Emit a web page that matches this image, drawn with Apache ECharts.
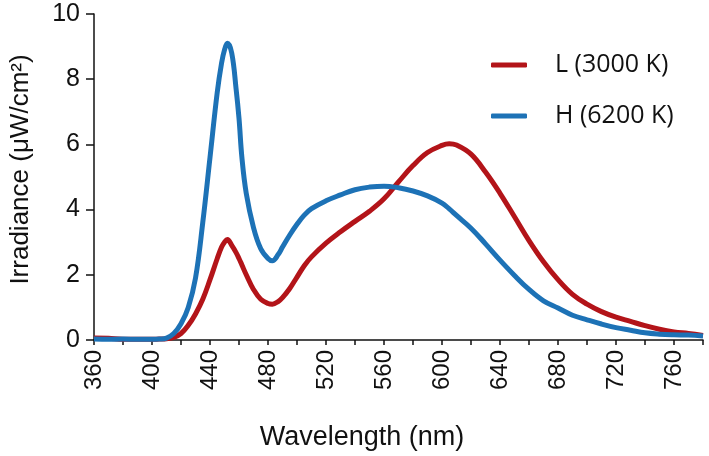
<!DOCTYPE html>
<html>
<head>
<meta charset="utf-8">
<script src="https://cdn.jsdelivr.net/npm/echarts@6/dist/echarts.min.js"></script>
<style>
  html, body { margin: 0; padding: 0; background: #fff; }
  #chart { width: 709px; height: 456px; }
</style>
</head>
<body>
<div id="chart"></div>
<script>
// wavelength (nm)
const wavelength = [360, 370, 380, 390, 400, 405, 410, 415, 420, 425, 430, 435, 440, 445, 448, 450, 452, 455, 458, 460,
  462, 465, 470, 475, 480, 483, 487, 490, 495, 500, 505, 510, 520, 530, 540, 550, 560, 570, 580, 590,
  600, 605, 610, 620, 630, 640, 650, 660, 670, 680, 690, 700, 710, 720, 730, 740, 750, 760, 770, 780];
// irradiance, H (6200 K)
const highK = [0.03, 0.02, 0.03, 0.02, 0.02, 0.03, 0.06, 0.2, 0.5, 1.0, 1.9, 3.6, 5.6, 7.6, 8.5, 8.9, 9.1, 8.8, 7.7, 6.8,
  5.6, 4.5, 3.45, 2.8, 2.5, 2.43, 2.62, 2.85, 3.22, 3.55, 3.83, 4.03, 4.27, 4.45, 4.61, 4.69, 4.72, 4.67, 4.57, 4.42,
  4.2, 4.02, 3.82, 3.43, 2.95, 2.45, 1.98, 1.55, 1.2, 0.98, 0.76, 0.62, 0.49, 0.38, 0.3, 0.22, 0.18, 0.16, 0.15, 0.12];
// irradiance, L (3000 K)
const lowK = [0.06, 0.05, 0.02, 0.02, 0.02, 0.03, 0.04, 0.08, 0.2, 0.45, 0.8, 1.25, 1.85, 2.5, 2.85, 3.0, 3.08, 2.9, 2.68, 2.5,
  2.3, 2.0, 1.55, 1.25, 1.12, 1.1, 1.18, 1.3, 1.58, 1.93, 2.28, 2.55, 2.97, 3.32, 3.64, 3.95, 4.33, 4.85, 5.35, 5.75,
  5.97, 6.02, 5.98, 5.7, 5.15, 4.5, 3.78, 3.05, 2.4, 1.85, 1.4, 1.1, 0.87, 0.7, 0.57, 0.44, 0.33, 0.25, 0.2, 0.14];
const seriesNames = ["L (3000 K)", "H (6200 K)"];

const RED = "#b31419";
const BLUE = "#1d72b6";

let myChart = echarts.init(document.getElementById("chart"));
myChart.setOption({
  animation: false,
  backgroundColor: "#fff",
  grid: { left: 92, right: 6, top: 14, bottom: 115, containLabel: false },
  legend: {
    data: seriesNames,
    orient: "vertical",
    left: 491,
    top: 51,
    padding: 0,
    itemWidth: 36,
    itemHeight: 5,
    icon: "roundRect",
    itemGap: 23,
    textStyle: {
      fontFamily: "Open Sans",
      fontSize: 25,
      color: "#111",
      lineHeight: 28,
      padding: [0, 0, 0, 23],
    },
  },
  xAxis: {
    type: "value",
    min: 360,
    max: 780,
    interval: 20,
    name: "Wavelength (nm)",
    nameLocation: "middle",
    nameGap: 84,
    nameTextStyle: {
      fontFamily: "Liberation Sans",
      fontSize: 27,
      color: "#111",
      padding: [0, 73, 0, 0],
    },
    axisLine: { show: true, lineStyle: { color: "#111", width: 1.5 } },
    axisTick: { show: true, length: 5, lineStyle: { color: "#111", width: 1.5 } },
    axisLabel: {
      rotate: 90,
      margin: 10,
      fontFamily: "Liberation Sans Narrow, Liberation Sans",
      fontSize: 24,
      color: "#111",
      hideOverlap: false,
      formatter: (v) => (v % 40 === 0 && v < 780 ? String(v) : ""),
    },
    splitLine: { show: false },
  },
  yAxis: {
    type: "value",
    min: 0,
    max: 10,
    interval: 2,
    name: "Irradiance (μW/cm²)",
    nameLocation: "middle",
    nameGap: 60,
    nameRotate: 90,
    nameTextStyle: {
      fontFamily: "Liberation Sans",
      fontSize: 26,
      color: "#111",
      padding: [0, 0, 0, 15],
    },
    axisLine: { show: true, lineStyle: { color: "#111", width: 1.5 } },
    axisTick: { show: true, length: 8, lineStyle: { color: "#111", width: 1.5 } },
    axisLabel: {
      margin: 14,
      fontFamily: "Liberation Sans",
      fontSize: 25,
      color: "#111",
    },
    splitLine: { show: false },
  },
  series: [
    {
      name: seriesNames[0],
      type: "line",
      smooth: 0.4,
      showSymbol: false,
      symbol: "none",
      color: RED,
      lineStyle: { color: RED, width: 5 },
      data: wavelength.map((w, i) => [w, lowK[i]]),
      z: 2,
    },
    {
      name: seriesNames[1],
      type: "line",
      smooth: 0.4,
      showSymbol: false,
      symbol: "none",
      color: BLUE,
      lineStyle: { color: BLUE, width: 5 },
      data: wavelength.map((w, i) => [w, highK[i]]),
      z: 3,
    },
  ],
});
</script>
</body>
</html>
